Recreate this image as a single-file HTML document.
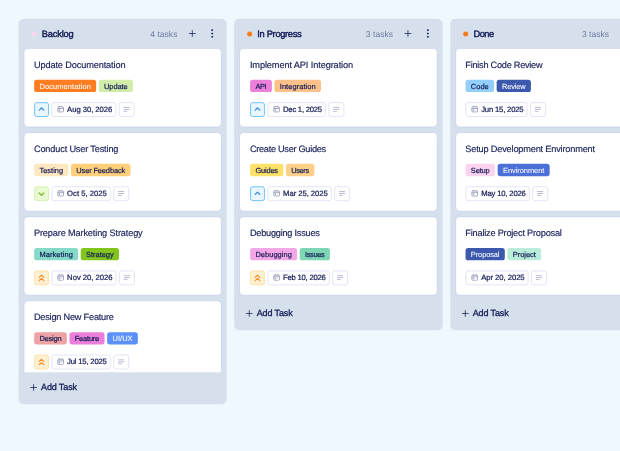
<!DOCTYPE html>
<html lang="en"><head><meta charset="utf-8"><title>Task Board</title>
<style>
html,body{margin:0;padding:0;width:620px;height:451px;overflow:hidden;background:#edf8ff}
svg{display:block;position:absolute;left:0;top:0}
text{font-family:"Liberation Sans",sans-serif;fill:#141d57;text-rendering:geometricPrecision;white-space:pre}
.tt{font-size:9.2px;stroke:#141d57;stroke-width:0.15px}
.tg{font-size:7.45px;stroke-width:0.2px}
.dt{font-size:7.7px;stroke:#141d57;stroke-width:0.22px}
.nm{font-size:9.3px;stroke:#141d57;stroke-width:0.42px}
.ct{font-size:8.5px;fill:#6f77a2}
.ad{font-size:9.0px;stroke:#141d57;stroke-width:0.3px}
.bx{fill:#fff;stroke:#dde0f3;stroke-width:0.85}
.ic{fill:none;stroke:#8990b5;stroke-width:0.75}
.nl{fill:none;stroke:#a6abc6;stroke-width:0.8}
.card{fill:#fff;stroke:#c9d0ec;stroke-width:0.8}
</style></head><body>
<svg width="620" height="451" viewBox="0 0 620 451">
<rect width="620" height="451" fill="#edf8ff"/>
<g class="column">
<rect x="18.5" y="18.65" width="208.3" height="385.65" rx="5.3" fill="#d6e0ec"/>
<circle cx="34" cy="33.9" r="2.5" fill="#fbd6ee"/>
<text class="nm" x="41.7" y="36.9" textLength="32" lengthAdjust="spacing">Backlog</text>
<text class="ct" x="150.2" y="36.5" textLength="27.2" lengthAdjust="spacing">4 tasks</text>
<path d="M188.9 33.5h6.8M192.3 30.1v6.8" stroke="#141d57" stroke-width="0.75" fill="none"/>
<g fill="#141d57"><rect x="211.25" y="29.35" width="1.9" height="1.7" rx="0.7"/><rect x="211.25" y="32.65" width="1.9" height="1.7" rx="0.7"/><rect x="211.25" y="35.9" width="1.9" height="1.7" rx="0.7"/></g>
<clipPath id="clip0"><rect x="18.5" y="40" width="208.3" height="332.2"/></clipPath><g clip-path="url(#clip0)">
<g class="task">
<rect class="card" x="23.95" y="48.35" width="197.5" height="78.65" rx="4"/>
<text class="tt" x="33.95" y="67.55" textLength="91.6" lengthAdjust="spacing">Update Documentation</text>
<rect x="34.15" y="79.7" width="62" height="12.3" rx="2.6" fill="#fd7d20"/>
<text class="tg" x="39.45" y="88.6" textLength="51.4" lengthAdjust="spacing" style="fill:#fff;stroke:#fff;stroke-width:0.06px">Documentation</text>
<rect x="98.75" y="79.7" width="34.2" height="12.3" rx="2.6" fill="#d2edaa"/>
<text class="tg" x="104.05" y="88.6" textLength="23.6" lengthAdjust="spacing" style="fill:#141d57;stroke:#141d57">Update</text>
<rect x="34.6" y="102.65" width="13.9" height="13.85" rx="2.1" fill="#e8f6ff" stroke="#66bcf5" stroke-width="0.9"/>
<path transform="translate(34.25 102.2)" d="M5.0 7.95L7.3 5.75L9.6 7.95" fill="none" stroke="#2f7fd8" stroke-width="1.15" stroke-linecap="round" stroke-linejoin="round"/>
<rect class="bx" x="51.9" y="102.6" width="63.9" height="13.95" rx="2.1"/>
<g class="ic" transform="translate(57.4 105.8)"><rect x="0.4" y="1.0" width="5.7" height="5.1" rx="0.8"/><path d="M0.4 2.7h5.7M2 0v1.4M4.5 0v1.4"/><rect x="1.4" y="3.6" width="1.3" height="1.3" fill="#8990b5" stroke="none"/></g>
<text class="dt" x="67.1" y="111.9" textLength="45.2" lengthAdjust="spacing">Aug 30, 2026</text>
<rect class="bx" x="119.15" y="102.6" width="15" height="13.95" rx="2.1"/>
<path class="nl" d="M123.55 107.4h6M123.55 109.35h6M123.55 111.3h3.6"/>
</g>
<g class="task">
<rect class="card" x="23.95" y="132.5" width="197.5" height="78.65" rx="4"/>
<text class="tt" x="33.95" y="151.7" textLength="84.5" lengthAdjust="spacing">Conduct User Testing</text>
<rect x="34.15" y="163.85" width="34.25" height="12.3" rx="2.6" fill="#ffe7bf"/>
<text class="tg" x="39.45" y="172.75" textLength="23.65" lengthAdjust="spacing" style="fill:#141d57;stroke:#141d57">Testing</text>
<rect x="71" y="163.85" width="59.5" height="12.3" rx="2.6" fill="#ffcf7a"/>
<text class="tg" x="76.3" y="172.75" textLength="48.9" lengthAdjust="spacing" style="fill:#141d57;stroke:#141d57">User Feedback</text>
<rect x="34.6" y="186.8" width="13.9" height="13.85" rx="2.1" fill="#e9fad2" stroke="#d3eeae" stroke-width="0.9"/>
<path transform="translate(34.25 186.35)" d="M4.9 6.7L7.25 9.0L9.6 6.7" fill="none" stroke="#78b82a" stroke-width="1.25" stroke-linecap="round" stroke-linejoin="round"/>
<rect class="bx" x="51.9" y="186.75" width="58.45" height="13.95" rx="2.1"/>
<g class="ic" transform="translate(57.4 189.95)"><rect x="0.4" y="1.0" width="5.7" height="5.1" rx="0.8"/><path d="M0.4 2.7h5.7M2 0v1.4M4.5 0v1.4"/><rect x="1.4" y="3.6" width="1.3" height="1.3" fill="#8990b5" stroke="none"/></g>
<text class="dt" x="67.1" y="196.05" textLength="39.75" lengthAdjust="spacing">Oct 5, 2025</text>
<rect class="bx" x="113.7" y="186.75" width="15" height="13.95" rx="2.1"/>
<path class="nl" d="M118.1 191.55h6M118.1 193.5h6M118.1 195.45h3.6"/>
</g>
<g class="task">
<rect class="card" x="23.95" y="216.65" width="197.5" height="78.65" rx="4"/>
<text class="tt" x="33.95" y="235.85" textLength="108.75" lengthAdjust="spacing">Prepare Marketing Strategy</text>
<rect x="34.15" y="248" width="44" height="12.3" rx="2.6" fill="#84dac6"/>
<text class="tg" x="39.45" y="256.9" textLength="33.4" lengthAdjust="spacing" style="fill:#141d57;stroke:#141d57">Marketing</text>
<rect x="80.75" y="248" width="38.25" height="12.3" rx="2.6" fill="#82c51f"/>
<text class="tg" x="86.05" y="256.9" textLength="27.65" lengthAdjust="spacing" style="fill:#141d57;stroke:#141d57">Strategy</text>
<rect x="34.6" y="270.95" width="13.9" height="13.85" rx="2.1" fill="#fff0d2" stroke="#ffdfa0" stroke-width="0.9"/>
<path transform="translate(34.25 270.5)" d="M4.95 6.8L7.25 4.65L9.55 6.8M4.95 10.1L7.25 7.95L9.55 10.1" fill="none" stroke="#f98a1f" stroke-width="1.1" stroke-linecap="round" stroke-linejoin="round"/>
<rect class="bx" x="51.9" y="270.9" width="64.2" height="13.95" rx="2.1"/>
<g class="ic" transform="translate(57.4 274.1)"><rect x="0.4" y="1.0" width="5.7" height="5.1" rx="0.8"/><path d="M0.4 2.7h5.7M2 0v1.4M4.5 0v1.4"/><rect x="1.4" y="3.6" width="1.3" height="1.3" fill="#8990b5" stroke="none"/></g>
<text class="dt" x="67.1" y="280.2" textLength="45.5" lengthAdjust="spacing">Nov 20, 2026</text>
<rect class="bx" x="119.45" y="270.9" width="15" height="13.95" rx="2.1"/>
<path class="nl" d="M123.85 275.7h6M123.85 277.65h6M123.85 279.6h3.6"/>
</g>
<g class="task">
<rect class="card" x="23.95" y="300.8" width="197.5" height="78.65" rx="4"/>
<text class="tt" x="33.95" y="320" textLength="80" lengthAdjust="spacing">Design New Feature</text>
<rect x="34.15" y="332.15" width="32.7" height="12.3" rx="2.6" fill="#eda3a3"/>
<text class="tg" x="39.45" y="341.05" textLength="22.1" lengthAdjust="spacing" style="fill:#141d57;stroke:#141d57">Design</text>
<rect x="69.45" y="332.15" width="35.1" height="12.3" rx="2.6" fill="#ec7fd9"/>
<text class="tg" x="74.75" y="341.05" textLength="24.5" lengthAdjust="spacing" style="fill:#141d57;stroke:#141d57">Feature</text>
<rect x="107.15" y="332.15" width="30.7" height="12.3" rx="2.6" fill="#5b8ff9"/>
<text class="tg" x="112.45" y="341.05" textLength="20.1" lengthAdjust="spacing" style="fill:#fff;stroke:#fff;stroke-width:0.06px">UI/UX</text>
<rect x="34.6" y="355.1" width="13.9" height="13.85" rx="2.1" fill="#fff0d2" stroke="#ffdfa0" stroke-width="0.9"/>
<path transform="translate(34.25 354.65)" d="M4.95 6.8L7.25 4.65L9.55 6.8M4.95 10.1L7.25 7.95L9.55 10.1" fill="none" stroke="#f98a1f" stroke-width="1.1" stroke-linecap="round" stroke-linejoin="round"/>
<rect class="bx" x="51.9" y="355.05" width="58.45" height="13.95" rx="2.1"/>
<g class="ic" transform="translate(57.4 358.25)"><rect x="0.4" y="1.0" width="5.7" height="5.1" rx="0.8"/><path d="M0.4 2.7h5.7M2 0v1.4M4.5 0v1.4"/><rect x="1.4" y="3.6" width="1.3" height="1.3" fill="#8990b5" stroke="none"/></g>
<text class="dt" x="67.1" y="364.35" textLength="39.75" lengthAdjust="spacing">Jul 15, 2025</text>
<rect class="bx" x="113.7" y="355.05" width="15" height="13.95" rx="2.1"/>
<path class="nl" d="M118.1 359.85h6M118.1 361.8h6M118.1 363.75h3.6"/>
</g>
</g>
<path d="M30.3 387.5h6.6M33.6 384.2v6.6" stroke="#141d57" stroke-width="0.75" fill="none"/>
<text class="ad" x="41" y="390.2" textLength="36" lengthAdjust="spacing">Add Task</text>
</g>
<g class="column">
<rect x="234.15" y="18.65" width="208.5" height="311.65" rx="5.3" fill="#d6e0ec"/>
<circle cx="249.65" cy="33.9" r="2.5" fill="#fb7a1c"/>
<text class="nm" x="257.35" y="36.9" textLength="44.35" lengthAdjust="spacing">In Progress</text>
<text class="ct" x="365.85" y="36.5" textLength="27.2" lengthAdjust="spacing">3 tasks</text>
<path d="M404.55 33.5h6.8M407.95 30.1v6.8" stroke="#141d57" stroke-width="0.75" fill="none"/>
<g fill="#141d57"><rect x="426.9" y="29.35" width="1.9" height="1.7" rx="0.7"/><rect x="426.9" y="32.65" width="1.9" height="1.7" rx="0.7"/><rect x="426.9" y="35.9" width="1.9" height="1.7" rx="0.7"/></g>
<g class="task">
<rect class="card" x="239.5" y="48.35" width="197.8" height="78.65" rx="4"/>
<text class="tt" x="249.9" y="67.55" textLength="103.25" lengthAdjust="spacing">Implement API Integration</text>
<rect x="250.1" y="79.7" width="21.75" height="12.3" rx="2.6" fill="#ec7fd9"/>
<text class="tg" x="255.4" y="88.6" textLength="11.15" lengthAdjust="spacing" style="fill:#141d57;stroke:#141d57">API</text>
<rect x="274.45" y="79.7" width="46.5" height="12.3" rx="2.6" fill="#fcc08a"/>
<text class="tg" x="279.75" y="88.6" textLength="35.9" lengthAdjust="spacing" style="fill:#141d57;stroke:#141d57">Integration</text>
<rect x="250.55" y="102.65" width="13.9" height="13.85" rx="2.1" fill="#e8f6ff" stroke="#66bcf5" stroke-width="0.9"/>
<path transform="translate(250.2 102.2)" d="M5.0 7.95L7.3 5.75L9.6 7.95" fill="none" stroke="#2f7fd8" stroke-width="1.15" stroke-linecap="round" stroke-linejoin="round"/>
<rect class="bx" x="267.85" y="102.6" width="57.7" height="13.95" rx="2.1"/>
<g class="ic" transform="translate(273.35 105.8)"><rect x="0.4" y="1.0" width="5.7" height="5.1" rx="0.8"/><path d="M0.4 2.7h5.7M2 0v1.4M4.5 0v1.4"/><rect x="1.4" y="3.6" width="1.3" height="1.3" fill="#8990b5" stroke="none"/></g>
<text class="dt" x="283.05" y="111.9" textLength="39" lengthAdjust="spacing">Dec 1, 2025</text>
<rect class="bx" x="328.9" y="102.6" width="15" height="13.95" rx="2.1"/>
<path class="nl" d="M333.3 107.4h6M333.3 109.35h6M333.3 111.3h3.6"/>
</g>
<g class="task">
<rect class="card" x="239.5" y="132.5" width="197.8" height="78.65" rx="4"/>
<text class="tt" x="249.9" y="151.7" textLength="76.25" lengthAdjust="spacing">Create User Guides</text>
<rect x="250.1" y="163.85" width="33.25" height="12.3" rx="2.6" fill="#fde26a"/>
<text class="tg" x="255.4" y="172.75" textLength="22.65" lengthAdjust="spacing" style="fill:#141d57;stroke:#141d57">Guides</text>
<rect x="285.95" y="163.85" width="28.5" height="12.3" rx="2.6" fill="#fcd088"/>
<text class="tg" x="291.25" y="172.75" textLength="17.9" lengthAdjust="spacing" style="fill:#141d57;stroke:#141d57">Users</text>
<rect x="250.55" y="186.8" width="13.9" height="13.85" rx="2.1" fill="#e8f6ff" stroke="#66bcf5" stroke-width="0.9"/>
<path transform="translate(250.2 186.35)" d="M5.0 7.95L7.3 5.75L9.6 7.95" fill="none" stroke="#2f7fd8" stroke-width="1.15" stroke-linecap="round" stroke-linejoin="round"/>
<rect class="bx" x="267.85" y="186.75" width="63.45" height="13.95" rx="2.1"/>
<g class="ic" transform="translate(273.35 189.95)"><rect x="0.4" y="1.0" width="5.7" height="5.1" rx="0.8"/><path d="M0.4 2.7h5.7M2 0v1.4M4.5 0v1.4"/><rect x="1.4" y="3.6" width="1.3" height="1.3" fill="#8990b5" stroke="none"/></g>
<text class="dt" x="283.05" y="196.05" textLength="44.75" lengthAdjust="spacing">Mar 25, 2025</text>
<rect class="bx" x="334.65" y="186.75" width="15" height="13.95" rx="2.1"/>
<path class="nl" d="M339.05 191.55h6M339.05 193.5h6M339.05 195.45h3.6"/>
</g>
<g class="task">
<rect class="card" x="239.5" y="216.65" width="197.8" height="78.65" rx="4"/>
<text class="tt" x="249.9" y="235.85" textLength="70" lengthAdjust="spacing">Debugging Issues</text>
<rect x="250.1" y="248" width="47" height="12.3" rx="2.6" fill="#f4a7e6"/>
<text class="tg" x="255.4" y="256.9" textLength="36.4" lengthAdjust="spacing" style="fill:#141d57;stroke:#141d57">Debugging</text>
<rect x="299.7" y="248" width="30.25" height="12.3" rx="2.6" fill="#7fd6b4"/>
<text class="tg" x="305" y="256.9" textLength="19.65" lengthAdjust="spacing" style="fill:#141d57;stroke:#141d57">Issues</text>
<rect x="250.55" y="270.95" width="13.9" height="13.85" rx="2.1" fill="#fff0d2" stroke="#ffdfa0" stroke-width="0.9"/>
<path transform="translate(250.2 270.5)" d="M4.95 6.8L7.25 4.65L9.55 6.8M4.95 10.1L7.25 7.95L9.55 10.1" fill="none" stroke="#f98a1f" stroke-width="1.1" stroke-linecap="round" stroke-linejoin="round"/>
<rect class="bx" x="267.85" y="270.9" width="61.45" height="13.95" rx="2.1"/>
<g class="ic" transform="translate(273.35 274.1)"><rect x="0.4" y="1.0" width="5.7" height="5.1" rx="0.8"/><path d="M0.4 2.7h5.7M2 0v1.4M4.5 0v1.4"/><rect x="1.4" y="3.6" width="1.3" height="1.3" fill="#8990b5" stroke="none"/></g>
<text class="dt" x="283.05" y="280.2" textLength="42.75" lengthAdjust="spacing">Feb 10, 2026</text>
<rect class="bx" x="332.65" y="270.9" width="15" height="13.95" rx="2.1"/>
<path class="nl" d="M337.05 275.7h6M337.05 277.65h6M337.05 279.6h3.6"/>
</g>
<path d="M245.95 313.5h6.6M249.25 310.2v6.6" stroke="#141d57" stroke-width="0.75" fill="none"/>
<text class="ad" x="256.65" y="316.2" textLength="36" lengthAdjust="spacing">Add Task</text>
</g>
<g class="column">
<rect x="450.2" y="18.65" width="208.3" height="311.65" rx="5.3" fill="#d6e0ec"/>
<circle cx="465.7" cy="33.9" r="2.5" fill="#fb7a1c"/>
<text class="nm" x="473.4" y="36.9" textLength="20.85" lengthAdjust="spacing">Done</text>
<text class="ct" x="581.9" y="36.5" textLength="27.2" lengthAdjust="spacing">3 tasks</text>
<path d="M620.6 33.5h6.8M624 30.1v6.8" stroke="#141d57" stroke-width="0.75" fill="none"/>
<g fill="#141d57"><rect x="642.95" y="29.35" width="1.9" height="1.7" rx="0.7"/><rect x="642.95" y="32.65" width="1.9" height="1.7" rx="0.7"/><rect x="642.95" y="35.9" width="1.9" height="1.7" rx="0.7"/></g>
<g class="task">
<rect class="card" x="455.65" y="48.35" width="197.5" height="78.65" rx="4"/>
<text class="tt" x="465.35" y="67.55" textLength="77.25" lengthAdjust="spacing">Finish Code Review</text>
<rect x="465.55" y="79.7" width="28.5" height="12.3" rx="2.6" fill="#93cff8"/>
<text class="tg" x="470.85" y="88.6" textLength="17.9" lengthAdjust="spacing" style="fill:#141d57;stroke:#141d57">Code</text>
<rect x="496.65" y="79.7" width="34.25" height="12.3" rx="2.6" fill="#3c59ad"/>
<text class="tg" x="501.95" y="88.6" textLength="23.65" lengthAdjust="spacing" style="fill:#fff;stroke:#fff;stroke-width:0.06px">Review</text>
<rect class="bx" x="465.95" y="102.6" width="61.2" height="13.95" rx="2.1"/>
<g class="ic" transform="translate(471.45 105.8)"><rect x="0.4" y="1.0" width="5.7" height="5.1" rx="0.8"/><path d="M0.4 2.7h5.7M2 0v1.4M4.5 0v1.4"/><rect x="1.4" y="3.6" width="1.3" height="1.3" fill="#8990b5" stroke="none"/></g>
<text class="dt" x="481.15" y="111.9" textLength="42.5" lengthAdjust="spacing">Jun 15, 2025</text>
<rect class="bx" x="530.5" y="102.6" width="15" height="13.95" rx="2.1"/>
<path class="nl" d="M534.9 107.4h6M534.9 109.35h6M534.9 111.3h3.6"/>
</g>
<g class="task">
<rect class="card" x="455.65" y="132.5" width="197.5" height="78.65" rx="4"/>
<text class="tt" x="465.35" y="151.7" textLength="129.75" lengthAdjust="spacing">Setup Development Environment</text>
<rect x="465.55" y="163.85" width="29.5" height="12.3" rx="2.6" fill="#fbd3ee"/>
<text class="tg" x="470.85" y="172.75" textLength="18.9" lengthAdjust="spacing" style="fill:#141d57;stroke:#141d57">Setup</text>
<rect x="497.65" y="163.85" width="52" height="12.3" rx="2.6" fill="#4a6fd6"/>
<text class="tg" x="502.95" y="172.75" textLength="41.4" lengthAdjust="spacing" style="fill:#fff;stroke:#fff;stroke-width:0.06px">Environment</text>
<rect class="bx" x="465.95" y="186.75" width="63.45" height="13.95" rx="2.1"/>
<g class="ic" transform="translate(471.45 189.95)"><rect x="0.4" y="1.0" width="5.7" height="5.1" rx="0.8"/><path d="M0.4 2.7h5.7M2 0v1.4M4.5 0v1.4"/><rect x="1.4" y="3.6" width="1.3" height="1.3" fill="#8990b5" stroke="none"/></g>
<text class="dt" x="481.15" y="196.05" textLength="44.75" lengthAdjust="spacing">May 10, 2026</text>
<rect class="bx" x="532.75" y="186.75" width="15" height="13.95" rx="2.1"/>
<path class="nl" d="M537.15 191.55h6M537.15 193.5h6M537.15 195.45h3.6"/>
</g>
<g class="task">
<rect class="card" x="455.65" y="216.65" width="197.5" height="78.65" rx="4"/>
<text class="tt" x="465.35" y="235.85" textLength="96.5" lengthAdjust="spacing">Finalize Project Proposal</text>
<rect x="465.55" y="248" width="39.25" height="12.3" rx="2.6" fill="#3c59ad"/>
<text class="tg" x="470.85" y="256.9" textLength="28.65" lengthAdjust="spacing" style="fill:#fff;stroke:#fff;stroke-width:0.06px">Proposal</text>
<rect x="507.4" y="248" width="33.75" height="12.3" rx="2.6" fill="#b9ecd9"/>
<text class="tg" x="512.7" y="256.9" textLength="23.15" lengthAdjust="spacing" style="fill:#141d57;stroke:#141d57">Project</text>
<rect class="bx" x="465.95" y="270.9" width="62.2" height="13.95" rx="2.1"/>
<g class="ic" transform="translate(471.45 274.1)"><rect x="0.4" y="1.0" width="5.7" height="5.1" rx="0.8"/><path d="M0.4 2.7h5.7M2 0v1.4M4.5 0v1.4"/><rect x="1.4" y="3.6" width="1.3" height="1.3" fill="#8990b5" stroke="none"/></g>
<text class="dt" x="481.15" y="280.2" textLength="43.5" lengthAdjust="spacing">Apr 20, 2025</text>
<rect class="bx" x="531.5" y="270.9" width="15" height="13.95" rx="2.1"/>
<path class="nl" d="M535.9 275.7h6M535.9 277.65h6M535.9 279.6h3.6"/>
</g>
<path d="M462 313.5h6.6M465.3 310.2v6.6" stroke="#141d57" stroke-width="0.75" fill="none"/>
<text class="ad" x="472.7" y="316.2" textLength="36" lengthAdjust="spacing">Add Task</text>
</g>
</svg>
</body></html>
